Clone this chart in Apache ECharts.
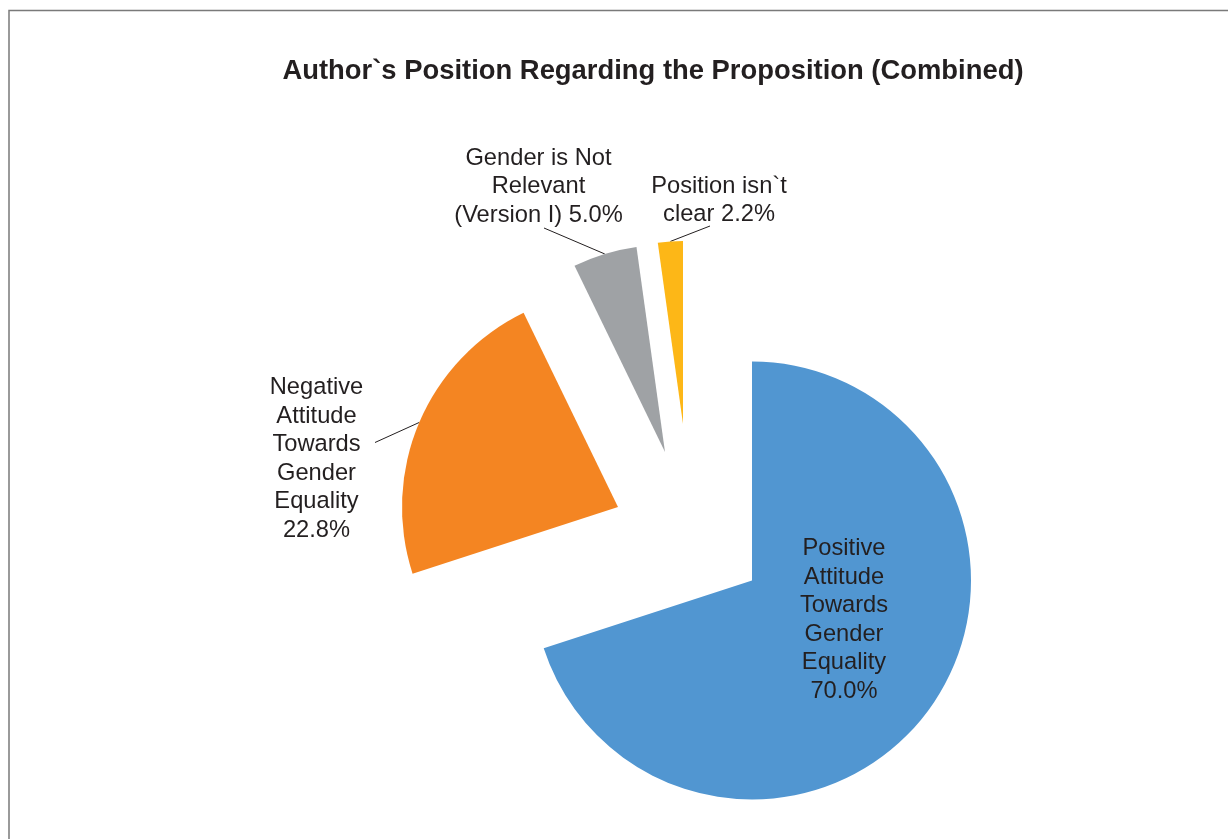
<!DOCTYPE html>
<html>
<head>
<meta charset="utf-8">
<script src="https://cdn.jsdelivr.net/npm/echarts@6/dist/echarts.min.js"></script>
<style>
html,body{margin:0;padding:0;background:#fff;}
#chart{width:1228px;height:839px;}
</style>
</head>
<body>
<div id="chart"></div>
<script>
// ---- data ----
const chartTitle = 'Author`s Position Regarding the Proposition (Combined)';
const categories = [
  'Positive Attitude Towards Gender Equality',
  'Negative Attitude Towards Gender Equality',
  'Gender is Not Relevant (Version I)',
  'Position isn`t clear'
];
const values = [70.0, 22.8, 5.0, 2.2];
const labelTexts = [
  'Positive\nAttitude\nTowards\nGender\nEquality\n{v}',
  'Negative\nAttitude\nTowards\nGender\nEquality\n{v}',
  'Gender is Not\nRelevant\n(Version I) {v}',
  'Position isn`t\nclear {v}'
];
const colors = ['#5196D1', '#F48522', '#9FA2A5', '#FDB717'];

// ---- layout (exploded slices: each drawn by its own pie series) ----
const sliceLayout = [
  { center: [752, 580.5], radius: 219,   inside: true,  label: [844, 620] },
  { center: [618, 507],   radius: 216,   inside: false, label: [316.5, 459], lineEnd: [375, 442.5] },
  { center: [665, 452],   radius: 207,   inside: false, label: [538.5, 186.5], lineEnd: [544, 228] },
  { center: [683, 424],   radius: 183,   inside: false, label: [719, 200.5],   lineEnd: [710, 226] }
];
const textColor = '#231F20';
const labelFont = 23.7;

const series = sliceLayout.map(function (lay, si) {
  return {
    type: 'pie',
    center: lay.center,
    radius: lay.radius,
    startAngle: 90,
    clockwise: true,
    silent: true,
    animation: false,
    avoidLabelOverlap: false,
    itemStyle: { borderWidth: 0 },
    label: {
      show: true,
      position: lay.inside ? 'inside' : 'outside',
      color: textColor,
      fontFamily: 'Liberation Sans, Arial, sans-serif',
      fontSize: labelFont,
      lineHeight: 28.5,
      align: 'center',
      overflow: 'none',
      formatter: function (p) {
        return labelTexts[p.dataIndex].replace('{v}', p.value.toFixed(1) + '%');
      }
    },
    labelLine: {
      show: !lay.inside,
      length: 10,
      length2: 10,
      smooth: false,
      lineStyle: { color: textColor, width: 1 }
    },
    labelLayout: function (params) {
      const out = {
        x: lay.label[0],
        y: lay.label[1],
        align: 'center',
        verticalAlign: 'middle'
      };
      if (!lay.inside && params.labelLinePoints) {
        const a = params.labelLinePoints[0];
        out.labelLinePoints = [a, lay.lineEnd, lay.lineEnd];
      }
      return out;
    },
    data: values.map(function (v, i) {
      const own = i === si;
      return {
        name: categories[i],
        value: v,
        itemStyle: { color: own ? colors[i] : 'rgba(0,0,0,0)' },
        label: { show: own },
        labelLine: { show: own && !lay.inside }
      };
    })
  };
});

const chart = echarts.init(document.getElementById('chart'), null, { renderer: 'canvas' });
chart.setOption({
  backgroundColor: '#ffffff',
  animation: false,
  graphic: [
    {
      type: 'rect',
      silent: true,
      shape: { x: 9, y: 10.5, width: 1400, height: 1000 },
      style: { fill: 'none', stroke: '#7a7a7a', lineWidth: 1.5 }
    },
    {
      type: 'text',
      silent: true,
      x: 653,
      y: 71,
      style: {
        text: chartTitle,
        fill: textColor,
        font: 'bold 27.4px "Liberation Sans", Arial, sans-serif',
        textAlign: 'center',
        textVerticalAlign: 'middle'
      }
    }
  ],
  series: series
});
</script>
</body>
</html>
